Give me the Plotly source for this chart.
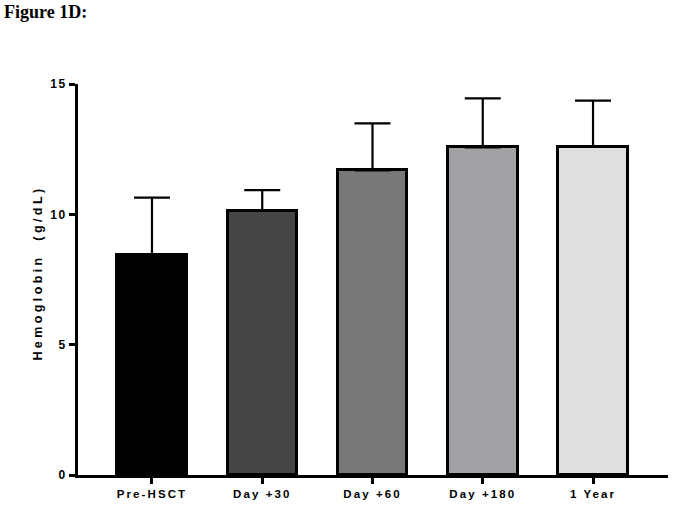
import plotly.graph_objects as go

categories = ["Pre-HSCT", "Day +30", "Day +60", "Day +180", "1 Year"]
means = [8.43, 10.14, 11.69, 12.57, 12.59]
errors = [2.21, 0.79, 1.80, 1.88, 1.77]
bar_colors = ["#000000", "#454545", "#787878", "#a2a1a6", "#dfdfdf"]
y_ticks = [0, 5, 10, 15]

fig = go.Figure()
fig.add_trace(go.Bar(
    x=list(range(len(categories))),
    y=means,
    width=0.63,
    marker=dict(color=bar_colors, line=dict(color="black", width=3)),
    error_y=dict(type="data", symmetric=False, array=errors,
                 arrayminus=[0] * len(errors), color="black",
                 thickness=2.2, width=18),
    showlegend=False,
))

fig.update_layout(
    width=673, height=507,
    margin=dict(l=78, r=5, t=84, b=32),
    paper_bgcolor="white", plot_bgcolor="white",
    title=dict(text="<b>Figure 1D:</b>", xref="container", yref="container",
               x=4 / 673, y=1 - 11.5 / 507, xanchor="left", yanchor="middle",
               font=dict(family="Liberation Serif", size=18, color="black")),
    font=dict(family="Liberation Sans", color="black"),
    bargap=0,
)
fig.add_annotation(
    text="Hemoglobin  (g/dL)", textangle=-90,
    xref="paper", yref="paper", x=0, y=(475 - 273) / 391,
    xanchor="center", yanchor="middle", xshift=-40, showarrow=False,
    font=dict(size=12.5, weight="bold", color="black"),
)
fig.update_xaxes(
    range=[-0.671, 4.68],
    tickmode="array", tickvals=list(range(len(categories))),
    ticktext=categories,
    tickfont=dict(size=11.5, weight="bold", color="black"),
    ticks="outside", ticklen=6, tickwidth=2.5, tickcolor="black",
    showline=True, linecolor="black", linewidth=3,
    showgrid=False, zeroline=False,
)
fig.update_yaxes(
    range=[0, 15],
    tickmode="array", tickvals=y_ticks,
    tickfont=dict(size=12, weight="bold", color="black"),
    ticks="outside", ticklen=6, tickwidth=2.5, tickcolor="black",
    showline=True, linecolor="black", linewidth=3,
    showgrid=False, zeroline=False,
)

post = """
document.body.style.margin = '0';
document.body.style.padding = '0';
var s = document.createElement('style');
s.textContent = '.xtick text {letter-spacing: 2.1px;} .ytick text {letter-spacing: 1.5px;} .annotation-text {letter-spacing: 3.4px; white-space: pre;}';
document.head.appendChild(s);
"""
fig.write_html("out.html", post_script=post, config={"displayModeBar": False})
